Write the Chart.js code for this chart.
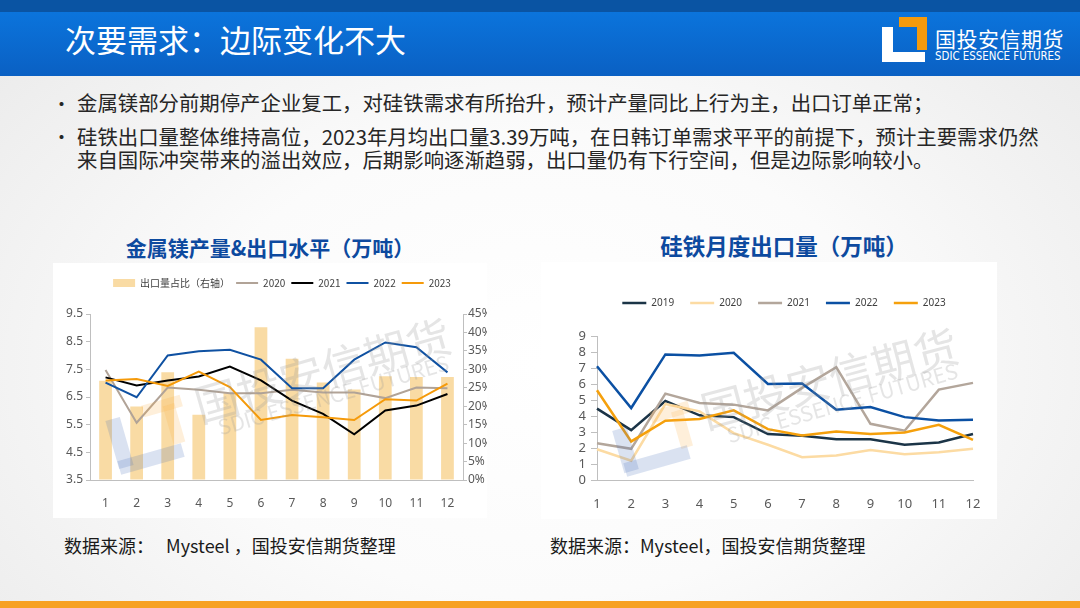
<!DOCTYPE html>
<html>
<head>
<meta charset="utf-8">
<script src="https://cdn.jsdelivr.net/npm/chart.js@4.4.1/dist/chart.umd.min.js"></script>
<style>
  html, body { margin: 0; padding: 0; }
  body {
    width: 1080px; height: 608px; position: relative; overflow: hidden;
    font-family: "Noto Sans CJK SC", "Noto Sans", sans-serif;
    background: radial-gradient(ellipse at 50% 60%, #ffffff 0%, #fbfbfb 45%, #e9e9e9 100%);
  }
  .abs { position: absolute; }
  .topbar { left: 0; top: 0; width: 1080px; height: 12px; background: #0a54a3; }
  .header { left: 0; top: 12px; width: 1080px; height: 64px; background: linear-gradient(#0b74dc, #0a60c3); }
  .title { left: 65px; top: 21px; color: #fff; font-size: 31px; line-height: 36px; white-space: nowrap; }
  .logo-w { background: #fff; }
  .logo-o { background: #f59a0c; }
  .logo-cn { left: 935px; top: 26px; color: #fff; font-size: 21px; line-height: 24px; letter-spacing: 0.5px; white-space: nowrap; }
  .logo-en { left: 935px; top: 50px; color: #fff; font-family: "DejaVu Sans Condensed", "Liberation Sans Narrow", sans-serif; font-size: 11.4px; line-height: 13px; white-space: nowrap; }
  .bullet { color: #262626; font-size: 20.4px; line-height: 23px; white-space: nowrap; }
  .dot { color: #262626; font-size: 19px; line-height: 23px; }
  .ctitle { color: #0d4a9f; font-weight: bold; line-height: 26px; white-space: nowrap; text-align: center; }
  .panel { background: #fff; overflow: hidden; }
  .src { color: #1a1a1a; font-size: 18px; line-height: 22px; white-space: nowrap; }
  .bottombar { left: 0; top: 601px; width: 1080px; height: 7px; background: #f7a124; }
  .wm { pointer-events: none; white-space: nowrap; color: rgba(150,150,150,0.25); transform-origin: center center; }
  .wm-b { background: rgba(70,110,185,0.2); }
  .wm-o { background: rgba(250,175,70,0.2); }
</style>
</head>
<body>
<div class="abs topbar"></div>
<div class="abs header"></div>
<div class="abs title">次要需求：边际变化不大</div>

<div class="abs logo-w" style="left:882px;top:27px;width:11px;height:35px;"></div>
<div class="abs logo-w" style="left:882px;top:52px;width:43px;height:10px;"></div>
<div class="abs logo-o" style="left:899px;top:17px;width:28px;height:10px;"></div>
<div class="abs logo-o" style="left:917px;top:17px;width:10px;height:33px;"></div>
<div class="abs logo-cn">国投安信期货</div>
<div class="abs logo-en">SDIC ESSENCE FUTURES</div>

<div class="abs dot" style="left:52px;top:92px;">•</div>
<div class="abs bullet" style="left:77px;top:91px;">金属镁部分前期停产企业复工，对硅铁需求有所抬升，预计产量同比上行为主，出口订单正常；</div>
<div class="abs dot" style="left:52px;top:125px;">•</div>
<div class="abs bullet" style="left:77px;top:125px;">硅铁出口量整体维持高位，2023年月均出口量3.39万吨，在日韩订单需求平平的前提下，预计主要需求仍然<br>来自国际冲突带来的溢出效应，后期影响逐渐趋弱，出口量仍有下行空间，但是边际影响较小。</div>

<div class="abs ctitle" style="left:53px;top:234px;width:434px;font-size:21px;">金属镁产量&amp;出口水平（万吨）</div>
<div class="abs ctitle" style="left:634px;top:232px;width:300px;font-size:22.5px;">硅铁月度出口量（万吨）</div>

<div class="abs panel" style="left:53px;top:263px;width:434px;height:255px;"><canvas id="c1" width="434" height="255"></canvas></div>
<div class="abs panel" style="left:541px;top:262px;width:456px;height:257px;"><canvas id="c2" width="456" height="257"></canvas></div>

<!-- watermarks -->
<div class="abs wm-o" style="left:142px;top:400px;width:40px;height:12px;transform:rotate(-16deg);"></div>
<div class="abs wm-o" style="left:168px;top:404px;width:12px;height:40px;transform:rotate(-16deg);"></div>
<div class="abs wm-b" style="left:112px;top:418px;width:15px;height:50px;transform:rotate(-16deg);"></div>
<div class="abs wm-b" style="left:118px;top:452px;width:66px;height:14px;transform:rotate(-16deg);"></div>
<div class="abs wm" style="left:190px;top:344px;width:260px;text-align:center;font-size:44px;line-height:50px;transform:rotate(-16deg);">国投安信期货</div>
<div class="abs wm" style="left:203px;top:381px;width:260px;text-align:center;font-size:21px;line-height:26px;transform:rotate(-16deg);">SDIC ESSENCE FUTURES</div>

<div class="abs wm-o" style="left:650px;top:406px;width:40px;height:12px;transform:rotate(-16deg);"></div>
<div class="abs wm-o" style="left:676px;top:410px;width:12px;height:38px;transform:rotate(-16deg);"></div>
<div class="abs wm-b" style="left:618px;top:428px;width:15px;height:44px;transform:rotate(-16deg);"></div>
<div class="abs wm-b" style="left:624px;top:454px;width:66px;height:14px;transform:rotate(-16deg);"></div>
<div class="abs wm" style="left:697px;top:352px;width:260px;text-align:center;font-size:44px;line-height:50px;transform:rotate(-15deg);">国投安信期货</div>
<div class="abs wm" style="left:712px;top:389px;width:260px;text-align:center;font-size:21px;line-height:26px;transform:rotate(-16deg);">SDIC ESSENCE FUTURES</div>

<div class="abs src" style="left:64px;top:534px;">数据来源：&nbsp;&nbsp; Mysteel ，国投安信期货整理</div>
<div class="abs src" style="left:550px;top:534px;">数据来源：Mysteel，国投安信期货整理</div>
<div class="abs bottombar"></div>

<script>
// month labels shared by both charts
const months = ["1", "2", "3", "4", "5", "6", "7", "8", "9", "10", "11", "12"];

// left chart: magnesium output (万吨) and export share (%)
const mgShare = [26.9, 19.9, 29.2, 17.7, 23.6, 41.4, 32.9, 26.4, 24.5, 28.1, 27.9, 27.9];
const mg2020 = [7.48, 5.57, 6.84, 6.76, 6.64, 6.64, 6.76, 6.66, 6.66, 6.46, 6.84, 6.82];
const mg2021 = [7.21, 6.92, 7.10, 7.24, 7.60, 7.10, 6.37, 5.89, 5.15, 6.01, 6.19, 6.61];
const mg2022 = [7.02, 6.49, 8.00, 8.15, 8.21, 7.85, 6.82, 6.82, 7.85, 8.47, 8.30, 7.39];
const mg2023 = [7.10, 7.15, 6.90, 7.42, 6.86, 5.67, 5.85, 5.77, 5.67, 6.42, 6.37, 6.98];

// right chart: ferrosilicon monthly exports (万吨)
const fe2019 = [4.46, 3.12, 4.94, 4.04, 3.93, 2.87, 2.76, 2.55, 2.55, 2.20, 2.34, 2.87];
const fe2020 = [1.92, 1.21, 4.75, 4.29, 2.93, 2.20, 1.42, 1.53, 1.88, 1.61, 1.74, 1.95];
const fe2021 = [2.30, 1.95, 5.40, 4.81, 4.71, 4.35, 5.76, 7.05, 3.51, 3.08, 5.65, 6.07];
const fe2022 = [7.11, 4.50, 7.85, 7.78, 7.95, 6.00, 6.03, 4.39, 4.56, 3.93, 3.72, 3.77];
const fe2023 = [5.61, 2.41, 3.70, 3.81, 4.35, 3.18, 2.78, 3.03, 2.87, 2.97, 3.45, 2.51];

const tickColor = "#595959";
const axisColor = "#bfbfbf";

// push the plot area down below the legend and nudge the legend sideways
function legendTweak(gap, dx) {
  return {
    id: "legendTweak",
    beforeInit(chart) {
      const legend = chart.legend;
      const fit = legend.fit;
      legend.fit = function () {
        fit.bind(legend)();
        this.height += gap;
      };
      const draw = legend.draw;
      legend.draw = function () {
        const ctx = this.ctx;
        ctx.save();
        ctx.translate(dx, 0);
        draw.bind(legend)();
        ctx.restore();
      };
    }
  };
}

function line(label, data, color, width, order) {
  return {
    type: "line", label: label, data: data, yAxisID: "y",
    borderColor: color, backgroundColor: color, borderWidth: width,
    pointRadius: 0, pointHoverRadius: 0, pointBorderWidth: width,
    pointStyle: "line", tension: 0, order: order
  };
}

new Chart(document.getElementById("c1"), {
  data: {
    labels: months,
    datasets: [
      {
        type: "bar", label: "出口量占比（右轴）", data: mgShare, yAxisID: "y1",
        backgroundColor: "#f9dba4", borderWidth: 0, pointStyle: "rect",
        categoryPercentage: 1, barPercentage: 0.41, order: 9
      },
      line("2020", mg2020, "#b1a397", 2, 4),
      line("2021", mg2021, "#000000", 2, 3),
      line("2022", mg2022, "#0f51a2", 2, 2),
      line("2023", mg2023, "#f59a0a", 2, 1)
    ]
  },
  options: {
    responsive: false,
    animation: false,
    layout: { padding: { top: 9, left: 0, right: 0, bottom: 0 } },
    plugins: {
      legend: {
        position: "top",
        labels: {
          usePointStyle: true, pointStyleWidth: 22, boxHeight: 8,
          padding: 6, color: "#404040",
          font: { family: "Noto Sans CJK SC", size: 10 },
          sort: (a, b) => a.datasetIndex - b.datasetIndex
        }
      },
      tooltip: { enabled: false }
    },
    scales: {
      x: {
        offset: true,
        grid: { display: false },
        border: { display: true, color: axisColor },
        ticks: { color: tickColor, padding: 8, font: { family: "Noto Sans", size: 12 } },
        afterFit: s => { s.height = 38; }
      },
      y: {
        position: "left", min: 3.5, max: 9.5,
        ticks: { stepSize: 1, autoSkip: false, color: tickColor, padding: 3, font: { family: "Noto Sans", size: 12 },
                 callback: v => v.toFixed(1) },
        grid: { drawOnChartArea: false, drawTicks: true, tickLength: 4, color: axisColor },
        border: { display: true, color: axisColor },
        afterFit: s => { s.width = 37; }
      },
      y1: {
        position: "right", min: 0, max: 45,
        ticks: { stepSize: 5, autoSkip: false, color: tickColor, padding: 1, font: { family: "Noto Sans", size: 12 },
                 callback: v => v + "%" },
        grid: { drawOnChartArea: false, drawTicks: true, tickLength: 4, color: axisColor },
        border: { display: true, color: axisColor },
        afterFit: s => { s.width = 24; }
      }
    }
  },
  plugins: [legendTweak(16, 12)]
});

new Chart(document.getElementById("c2"), {
  type: "line",
  data: {
    labels: months,
    datasets: [
      line("2019", fe2019, "#1b3447", 2.5, 5),
      line("2020", fe2020, "#fcdba3", 2.5, 4),
      line("2021", fe2021, "#b3a69b", 2.5, 3),
      line("2022", fe2022, "#0b50a3", 2.5, 2),
      line("2023", fe2023, "#f5a00c", 2.5, 1)
    ]
  },
  options: {
    responsive: false,
    animation: false,
    layout: { padding: { top: 20, left: 0, right: 24, bottom: 0 } },
    plugins: {
      legend: {
        position: "top",
        labels: {
          usePointStyle: true, pointStyleWidth: 24, boxHeight: 8,
          padding: 16, color: "#404040",
          font: { family: "Noto Sans", size: 10 },
          sort: (a, b) => a.datasetIndex - b.datasetIndex
        }
      },
      tooltip: { enabled: false }
    },
    scales: {
      x: {
        grid: { display: false },
        border: { display: true, color: axisColor },
        ticks: { color: tickColor, padding: 8, font: { family: "Noto Sans", size: 13 } },
        afterFit: s => { s.height = 39; }
      },
      y: {
        min: 0, max: 9,
        ticks: { stepSize: 1, autoSkip: false, color: tickColor, padding: 5, font: { family: "Noto Sans", size: 13 } },
        grid: { drawOnChartArea: false, drawTicks: true, tickLength: 6, color: axisColor },
        border: { display: true, color: axisColor },
        afterFit: s => { s.width = 56; }
      }
    }
  },
  plugins: [legendTweak(18, 27)]
});
</script>
</body>
</html>
